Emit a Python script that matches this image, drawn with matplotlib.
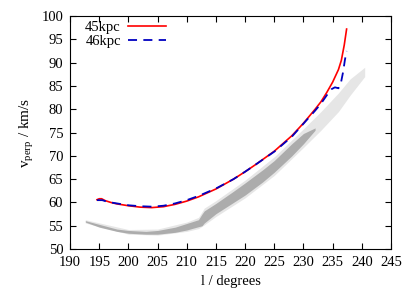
import matplotlib.pyplot as plt

plt.rcParams['font.family'] = ['Liberation Serif', 'DejaVu Serif']

# model curves
l_45 = [194.6, 195.0, 195.4, 196.0, 197.0, 198.0, 200.0, 202.0, 204.0, 206.0, 208.0, 210.0,
        212.0, 215.0, 218.0, 220.0, 222.0, 225.0, 228.0, 230.0, 232.0, 233.0, 234.0, 235.0,
        236.0, 236.5, 237.0, 237.4]
v_45 = [60.6, 60.8, 60.8, 60.4, 60.0, 59.7, 59.3, 59.0, 58.9, 59.1, 59.6, 60.3,
        61.2, 62.9, 65.0, 66.6, 68.3, 71.0, 74.3, 77.0, 80.0, 81.6, 83.6, 85.8,
        88.5, 90.5, 93.8, 97.2]

l_46 = [194.6, 195.0, 195.5, 196.0, 197.0, 198.0, 200.0, 202.0, 204.0, 206.0, 208.0, 210.0,
        212.0, 215.0, 218.0, 220.0, 222.0, 225.0, 228.0, 230.0, 232.0, 233.0, 234.0, 234.8,
        235.4, 236.0, 236.4, 236.8, 237.1, 237.4]
v_46 = [60.5, 60.5, 60.5, 60.3, 60.0, 59.8, 59.4, 59.2, 59.1, 59.3, 59.8, 60.5,
        61.4, 63.0, 65.0, 66.6, 68.3, 70.9, 74.1, 76.9, 79.7, 81.2, 83.0, 84.3,
        84.7, 84.5, 85.5, 88.0, 90.5, 92.5]

# grey particle band: dense core and fuzzy outer cloud (lower / upper edge)
l_dense = [192.6, 195.0, 198.0, 200.0, 203.0, 205.0, 208.0, 210.0, 212.0, 212.6, 213.0,
           215.0, 218.0, 220.0, 223.0, 225.0, 228.0, 230.0, 232.0]
lo_dense = [55.8, 54.7, 53.8, 53.4, 53.2, 53.2, 53.6, 54.1, 54.8, 55.0, 55.6,
            57.6, 60.0, 61.6, 64.4, 66.5, 70.0, 72.6, 75.5]
hi_dense = [56.1, 55.3, 54.3, 54.0, 53.8, 54.0, 54.7, 55.5, 56.3, 57.5, 58.2,
            59.8, 62.4, 64.2, 67.0, 69.0, 72.6, 74.8, 76.0]

l_fuzz = [192.6, 200.0, 205.0, 210.0, 212.0, 213.0, 215.0, 220.0, 225.0, 230.0, 233.0,
          236.0, 238.0, 240.5]
lo_fuzz = [55.6, 53.2, 53.0, 53.8, 54.4, 55.2, 57.0, 61.0, 65.8, 71.8, 75.5,
           79.5, 83.0, 87.0]
hi_fuzz = [56.3, 54.2, 54.3, 55.8, 56.8, 58.8, 60.4, 64.8, 69.8, 75.8, 79.5,
           83.5, 86.5, 89.0]

fig = plt.figure(figsize=(4.15, 2.91), dpi=100)
ax = fig.add_axes([0.169, 0.144, 0.773, 0.801])

ax.fill_between(l_fuzz, lo_fuzz, hi_fuzz, color='#c8c8c8', alpha=0.45, lw=0)
ax.fill_between(l_dense, lo_dense, hi_dense, color='#999999', alpha=0.75, lw=0)

ax.plot(l_45, v_45, color='#ff0000', lw=1.2, label='45kpc')
ax.plot(l_46, v_46, color='#0000c0', lw=1.3, dashes=(5, 3.5), label='46kpc')

ax.set_xlim(190, 245)
ax.set_ylim(50, 100)
ax.set_xticks(range(190, 246, 5))
ax.set_yticks(range(50, 101, 5))
ax.tick_params(direction='in', top=True, right=True, labelsize=10.5, length=4, pad=5)
ax.set_xlabel('l / degrees', fontsize=10.5)
ax.set_ylabel(r'v$_\mathregular{perp}$ / km/s', fontsize=11)

ax.legend(loc='upper left', frameon=False, markerfirst=False, fontsize=10.5,
          handlelength=2.6, handletextpad=0.5, borderaxespad=0.15, labelspacing=0.0,
          bbox_to_anchor=(0.022, 1.012))

fig.savefig('out.png', dpi=100)
